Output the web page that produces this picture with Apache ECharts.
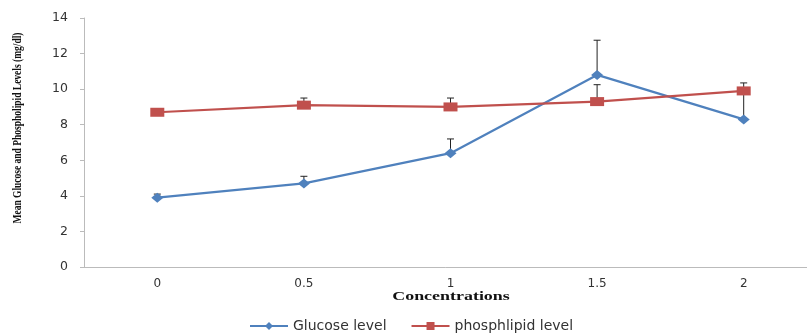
<!DOCTYPE html>
<html>
<head>
<meta charset="utf-8">
<script src="https://cdn.jsdelivr.net/npm/echarts@6/dist/echarts.min.js"></script>
<style>html,body{margin:0;padding:0;background:#fff}#c{width:807px;height:333px}</style>
</head>
<body>
<div id="c"></div>
<script>
var categories = ['0', '0.5', '1', '1.5', '2'];
var glucose = [3.9, 4.7, 6.4, 10.8, 8.3];
var glucoseErr = [0.2, 0.4, 0.8, 1.95, 1.6];
var phospho = [8.7, 9.1, 9.0, 9.3, 9.9];
var phosphoErr = [0, 0.4, 0.5, 0.95, 0.45];
var yTicks = [0, 2, 4, 6, 8, 10, 12, 14];

function errData(vals, errs) {
  return vals.map(function (v, i) { return [i, v, v + errs[i]]; });
}
function renderErr(params, api) {
  var lo = api.coord([api.value(0), api.value(1)]);
  var hi = api.coord([api.value(0), api.value(2)]);
  if (Math.abs(lo[1] - hi[1]) < 0.5) return null;
  var w = 3.5;
  var st = { stroke: '#222', lineWidth: 1 };
  return {
    type: 'group',
    children: [
      { type: 'line', shape: { x1: lo[0], y1: lo[1], x2: hi[0], y2: hi[1] }, style: st },
      { type: 'line', shape: { x1: hi[0] - w, y1: hi[1], x2: hi[0] + w, y2: hi[1] }, style: st }
    ]
  };
}

var chart = echarts.init(document.getElementById('c'));
chart.setOption({
  animation: false,
  grid: { left: 84, top: 18, bottom: 66, width: 733, outerBoundsMode: 'none', containLabel: false },
  legend: {
    bottom: -5,
    left: 244,
    itemWidth: 38,
    itemHeight: 10,
    itemGap: 24,
    textStyle: { fontFamily: 'DejaVu Sans', fontSize: 14, color: '#333' },
    data: ['Glucose level', 'phosphlipid level']
  },
  xAxis: {
    type: 'category',
    data: categories,
    boundaryGap: true,
    axisLine: { lineStyle: { color: '#bbb', width: 1 } },
    axisTick: { show: false },
    axisLabel: { fontFamily: 'DejaVu Sans', fontSize: 12, color: '#333', margin: 11 }
  },
  yAxis: {
    type: 'value',
    min: yTicks[0],
    max: yTicks[yTicks.length - 1],
    interval: 2,
    axisLine: { show: true, lineStyle: { color: '#bbb', width: 1 } },
    axisTick: { show: true, length: 4, lineStyle: { color: '#bbb' } },
    splitLine: { show: false },
    axisLabel: { fontFamily: 'DejaVu Sans', fontSize: 12.5, color: '#333', margin: 16 }
  },
  graphic: [{
    type: 'text',
    x: 18,
    y: 128,
    rotation: Math.PI / 2,
    scaleX: 0.79,
    style: {
      text: 'Mean Glucose and Phospholipid Levels (mg/dl)',
      fontFamily: 'Liberation Serif',
      fontWeight: 'bold',
      fontSize: 12,
      fill: '#111',
      align: 'center',
      verticalAlign: 'middle'
    }
  }, {
    type: 'text',
    x: 451,
    y: 297,
    scaleX: 1.38,
    style: {
      text: 'Concentrations',
      fontFamily: 'Liberation Serif',
      fontWeight: 'bold',
      fontSize: 13,
      fill: '#111',
      align: 'center',
      verticalAlign: 'middle'
    }
  }],
  series: [
    {
      type: 'custom',
      renderItem: renderErr,
      data: errData(glucose, glucoseErr),
      z: 1,
      silent: true
    },
    {
      type: 'custom',
      renderItem: renderErr,
      data: errData(phospho, phosphoErr),
      z: 1,
      silent: true
    },
    {
      name: 'Glucose level',
      type: 'line',
      data: glucose,
      z: 3,
      symbol: 'diamond',
      symbolSize: [12, 10],
      lineStyle: { color: '#4F81BD', width: 2.2 },
      itemStyle: { color: '#4F81BD' }
    },
    {
      name: 'phosphlipid level',
      type: 'line',
      data: phospho,
      z: 4,
      symbol: 'rect',
      symbolSize: [14, 9],
      lineStyle: { color: '#C0504D', width: 2.2 },
      itemStyle: { color: '#C0504D' }
    }
  ]
});
</script>
</body>
</html>
